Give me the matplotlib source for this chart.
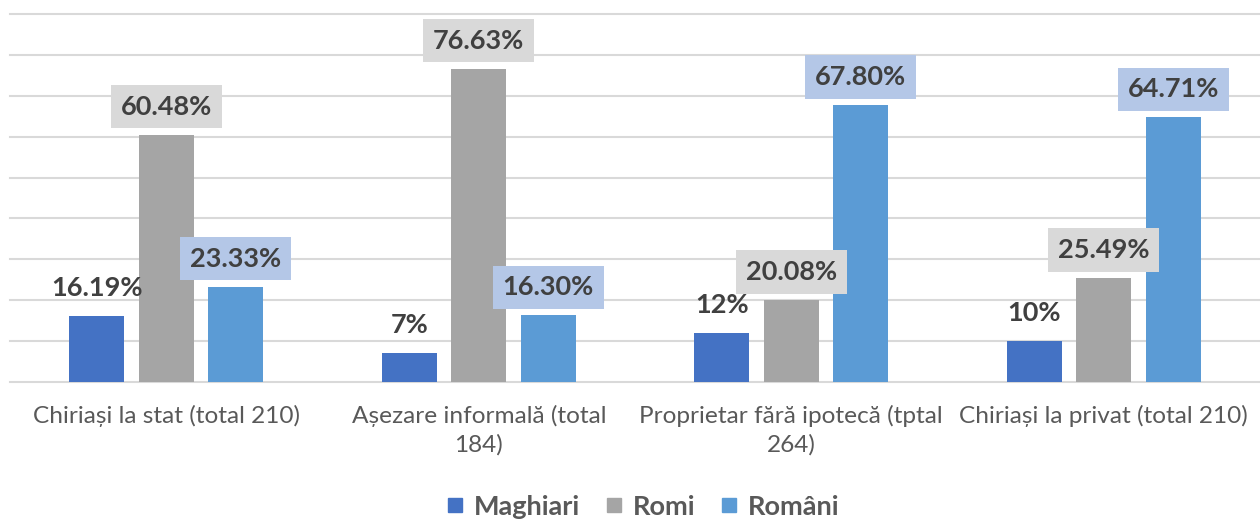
import numpy as np
import matplotlib.pyplot as plt
from matplotlib.lines import Line2D

plt.rcParams['font.family'] = ['Lato', 'DejaVu Sans']

categories = ['Chiriași la stat (total 210)', 'Așezare informală (total\n184)',
              'Proprietar fără ipotecă (tptal\n264)', 'Chiriași la privat (total 210)']
series = ['Maghiari', 'Romi', 'Români']
maghiari = [16.19, 7, 12, 10]
romi = [60.48, 76.63, 20.08, 25.49]
romani = [23.33, 16.30, 67.80, 64.71]
maghiari_lbl = ['16.19%', '7%', '12%', '10%']
romi_lbl = ['60.48%', '76.63%', '20.08%', '25.49%']
romani_lbl = ['23.33%', '16.30%', '67.80%', '64.71%']

colors = ['#4472C4', '#A5A5A5', '#5B9BD5']
box_colors = [None, '#D9D9D9', '#B4C7E7']
txt_col = '#404040'

fig = plt.figure(figsize=(12.6, 5.19), dpi=100)
ax = fig.add_axes([10/1260, (519-382)/519, 1250/1260, (382-14)/519])

x = np.arange(len(categories))
w = 0.176
step = 0.222
data = [maghiari, romi, romani]
labels = [maghiari_lbl, romi_lbl, romani_lbl]
for i in range(3):
    xs = x + (i-1)*step
    ax.bar(xs, data[i], w, color=colors[i], zorder=3, label=series[i])
    for j in range(len(xs)):
        bb = None
        if box_colors[i]:
            bb = dict(boxstyle='square,pad=0.36', fc=box_colors[i], ec='none')
        ax.annotate(labels[i][j], (xs[j], data[i][j]), xytext=(0, 28),
                    textcoords='offset pixels', ha='center', va='center',
                    fontsize=19.5, fontweight='bold', color=txt_col,
                    bbox=bb, zorder=5)

ax.set_xlim(-0.5, 3.5)
ax.set_ylim(0, 90)
ax.set_yticks(np.arange(0, 91, 10))
ax.yaxis.grid(True, color='#D9D9D9', linewidth=1.5, zorder=0)
for gl in ax.get_ygridlines():
    gl.set_clip_on(False)
ax.tick_params(axis='y', left=False, labelleft=False)
ax.tick_params(axis='x', bottom=False, pad=13)
ax.set_xticks(x)
ax.set_xticklabels(categories, fontsize=17.6, color='#595959', linespacing=1.4)
for s in ax.spines.values():
    s.set_visible(False)

handles = [Line2D([], [], marker='s', linestyle='none', markersize=10.5,
                  color=colors[i], label=series[i]) for i in range(3)]
leg = fig.legend(handles=handles, loc='center', bbox_to_anchor=(0.51, 0.024),
                 ncol=3, frameon=False, handlelength=0.7, handletextpad=0.35,
                 columnspacing=0.9, prop={'size': 19.5, 'weight': 'bold'})
for t in leg.get_texts():
    t.set_color('#595959')

fig.savefig('out.png', dpi=100)
